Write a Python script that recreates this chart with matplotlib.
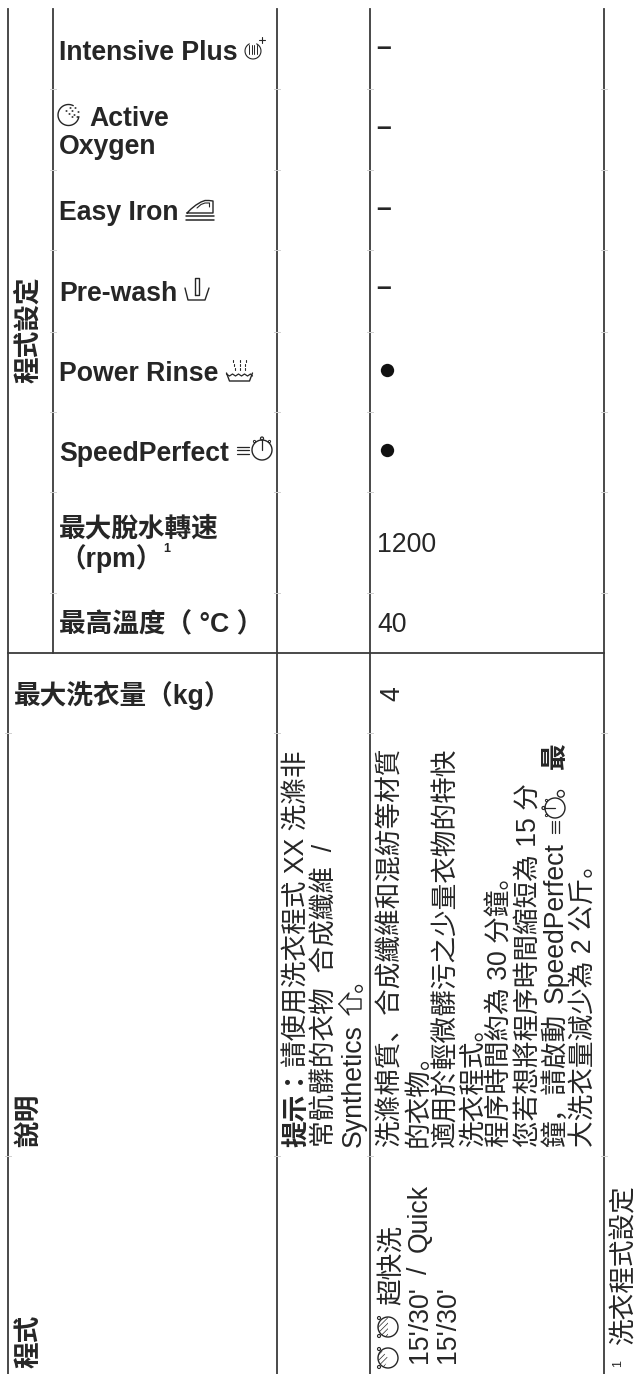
import numpy as np
import matplotlib
matplotlib.use("Agg")
import matplotlib.pyplot as plt
from matplotlib.patches import Circle, Wedge

plt.rcParams['font.family'] = ['Liberation Sans', 'Noto Sans CJK SC', 'DejaVu Sans']
plt.rcParams['hatch.linewidth'] = 0.5

# table content
row_labels = ["Intensive Plus", "Active\nOxygen", "Easy Iron", "Pre-wash", "Power Rinse",
              "SpeedPerfect", "最大脫水轉速\n（rpm）", "最高溫度（ °C ）"]
row_values = ["–", "–", "–", "–", "●", "●", "1200", "40"]
group_label = "程式設定"
load_label = "最大洗衣量（kg）"
load_value = "4"
head_desc = "說明"
head_prog = "程式"
note_bold = "提示："
note_lines = ["請使用洗衣程式 XX 洗滌非", "常骯髒的衣物  合成纖維  /", "Synthetics"]
prog_name = "超快洗"
prog_time = "15'/30'"
prog_sep = "/"
prog_en = "Quick"
desc_lines = ["洗滌棉質、合成纖維和混紡等材質", "的衣物。", "適用於輕微髒污之少量衣物的特快",
              "洗衣程式。", "程序時間約為 30 分鐘。", "您若想將程序時間縮短為 15 分",
              "鐘，請啟動", "大洗衣量減少為 2 公斤。"]
foot_mark = "1"
foot_text = "洗衣程式設定"

# layout (pixels of the page)
FS = 19.2
INK = "#262626"
LINE = "#3a3a3a"
v_lines = [8, 277, 370, 604]
row_y = [59.5, 126, 220, 301, 381, 461, 537, 632]
value_y = [55, 135, 216, 295, 370, 450, 552, 632]
row_gaps = [89, 170, 250, 332, 412, 492, 593]
low_gaps = [733, 1156]
note_x = [305, 333, 361]
desc_x = [398, 425.5, 453, 480.5, 508, 535.5, 563, 590.5]
prog_x = [399, 427, 455]

fig = plt.figure(figsize=(6.37, 13.74), dpi=100)
ax = fig.add_axes([0, 0, 1, 1])
ax.set_xlim(0, 637)
ax.set_ylim(1374, 0)
ax.axis("off")


def label(x, y, s, bold=False, rot=False, size=FS, family=None):
    ax.text(x, y, s, fontsize=size, color=INK, fontweight="bold" if bold else "normal",
            rotation=90 if rot else 0, rotation_mode="anchor", ha="left", va="baseline",
            linespacing=1.0, family=family)


def place(cx, cy, u, v, s, rot):
    # icon units to page pixels, rot turns the icon with the rotated text
    u = np.asarray(u, float) * s
    v = np.asarray(v, float) * s
    if rot:
        return cx - v, cy - u
    return cx + u, cy - v


def stroke(cx, cy, u, v, s=1, rot=False, lw=0.9):
    x, y = place(cx, cy, u, v, s, rot)
    ax.plot(x, y, color=INK, lw=lw, solid_capstyle="round")


def ring(cx, cy, u, v, r, s=1, rot=False, lw=0.9, fill="none"):
    x, y = place(cx, cy, u, v, s, rot)
    ax.add_patch(Circle((x, y), r * s, fc=fill, ec=INK, lw=lw))


def stopwatch(cx, cy, s=1, rot=False):
    for v in (3.5, 0, -3.5):
        stroke(cx, cy, [-21, -9], [v, v], s, rot)
    ring(cx, cy, 4, 0, 10, s, rot, lw=1.0)
    stroke(cx, cy, [4, 4], [0, 10], s, rot)
    ring(cx, cy, 4, 11.5, 1.5, s, rot, lw=0.9)
    ring(cx, cy, -3.5, 8.5, 1.1, s, rot, lw=0.7)
    ring(cx, cy, 11.5, 8.5, 1.1, s, rot, lw=0.7)


def half_watch(cx, cy, start, end):
    ring(cx, cy, 0, 0, 10, lw=1.0)
    ax.add_patch(Wedge((cx, cy), 10, start, end, fc="none", ec=INK, hatch="//////", lw=0))
    for u in (-9, 9):
        ring(cx, cy, u, 9, 1.5, rot=True, lw=0.8)


def shirt(cx, cy):
    u = [0, 11, 5, 5, -5, -5, -11, 0]
    v = [11, 1, 3, -11, -11, 3, 1, 11]
    stroke(cx, cy, u, v, rot=True, lw=1.0)


def icon_plus(cx, cy):
    t = np.linspace(0.15 * np.pi, 1.85 * np.pi, 30) + np.pi / 2
    stroke(cx, cy, 8 * np.cos(t), 8 * np.sin(t), lw=0.8)
    for u in (-4, -1.3, 1.3, 4):
        stroke(cx, cy, [u, u], [-3, 6], lw=0.7)
    stroke(cx + 9, cy - 11, [-3, 3], [0, 0], lw=0.8)
    stroke(cx + 9, cy - 11, [0, 0], [-3, 3], lw=0.8)


def icon_oxygen(cx, cy):
    t = np.linspace(0.35 * np.pi, 1.95 * np.pi, 40)
    stroke(cx, cy, 10.5 * np.cos(t), 10.5 * np.sin(t), lw=1.0)
    for u, v in [(-2, 4), (1, 1), (4, 4), (6, 0), (2, 7), (7, 7), (10, 3), (4, -2), (9, -2)]:
        ring(cx, cy, u, v, 0.7, fill=INK, lw=0.3)


def icon_iron(cx, cy):
    stroke(cx, cy, [-13, -9, -4, 1, 5, 9, 13, 13, -13],
           [-3, 1, 5, 8, 9.5, 9.5, 9, -3, -3], lw=1.0)
    stroke(cx, cy, [-3, 1, 5, 9.5, 9.5], [2, 5.5, 7, 7, 3], lw=0.8)
    stroke(cx, cy, [-14, 14], [-6, -6], lw=1.1)
    stroke(cx, cy, [-14, 14], [-9.5, -9.5], lw=1.1)


def icon_prewash(cx, cy):
    stroke(cx, cy, [-12, -9, 8, 12], [1, -11, -11, 1], lw=1.0)
    stroke(cx, cy, [-2, -2, 2, 2, -2], [-6, 11, 11, -6, -6], lw=1.0)


def icon_rinse(cx, cy):
    stroke(cx, cy, [-13, -10, 10, 13], [-3, -11, -11, -3], lw=1.0)
    u = np.array([-13, -10, -7, -4, -1, 2, 5, 8, 11, 13])
    stroke(cx, cy, u, [-4, -6, -4, -6, -4, -6, -4, -6, -4, -6], lw=0.9)
    for a in (-5, 0, 5):
        for b in (0, 4, 8):
            stroke(cx, cy, [a * (1 + b * 0.03)] * 2, [b, b + 2.4], lw=0.8)


# grid lines
for x in v_lines:
    ax.plot([x, x], [9, 1374], color=LINE, lw=1.3)
ax.plot([53, 53], [9, 653], color=LINE, lw=1.3)
ax.plot([8, 604], [653, 653], color=LINE, lw=1.3)
for y in row_gaps:
    for x in [53, 277, 370, 604]:
        ax.plot([x - 3, x + 3], [y, y], color="#d0d0d0", lw=0.7)
for y in low_gaps:
    for x in v_lines:
        ax.plot([x - 3, x + 3], [y, y], color="#d0d0d0", lw=0.7)

# left block, settings rows
label(36, 383, group_label, bold=True, rot=True)
for text, y in zip(row_labels, row_y):
    if text == "Active\nOxygen":
        label(89, 126, "Active", bold=True)
        label(59, 154, "Oxygen", bold=True)
    elif "\n" in text:
        first, second = text.split("\n")
        label(59, y, first, bold=True)
        label(59, y + 30, second, bold=True)
    else:
        label(59, y, text, bold=True)
label(163, 552, "1", bold=True, size=9)

icon_plus(253, 51)
icon_oxygen(68.5, 115)
icon_iron(200, 210)
icon_prewash(197, 289)
icon_rinse(239.5, 370)
stopwatch(258, 450)

# values
for value, y in zip(row_values, value_y):
    if value == "●":
        ax.plot(386.5, y, "o", ms=9.6, color="#111111", mew=0)
    elif value == "–":
        label(376, y, value, bold=True)
    else:
        label(377, y, value)

label(14, 704, load_label, bold=True)
label(399, 701, load_value, rot=True)

# lower block, rotated text
label(36, 1147, head_desc, bold=True, rot=True)
label(36, 1368, head_prog, bold=True, rot=True)

label(note_x[0], 1147, note_bold, bold=True, rot=True, family=['Noto Sans CJK TC'])
label(note_x[0], 1067, note_lines[0], rot=True)
label(note_x[1], 1147, note_lines[1], rot=True)
label(note_x[2], 1147, note_lines[2], rot=True)
shirt(350, 1004)
label(note_x[2], 992, "。", rot=True)

for text, x in zip(desc_lines, desc_x):
    label(x, 1147, text, rot=True)
label(desc_x[6], 1003, "SpeedPerfect", rot=True)
stopwatch(555, 812, rot=True)
label(desc_x[6], 797, "。", rot=True)
label(desc_x[6], 769, "最", bold=True, rot=True)

half_watch(388, 1327, 90, 270)
half_watch(388, 1358, 110, 230)
label(prog_x[0], 1305, prog_name, rot=True)
label(prog_x[1], 1363, prog_time, rot=True)
label(prog_x[1], 1274, prog_sep, rot=True)
label(prog_x[1], 1252, prog_en, rot=True)
label(prog_x[2], 1363, prog_time, rot=True)

label(621, 1367, foot_mark, rot=True, size=9)
label(631.5, 1345, foot_text, rot=True)

fig.savefig("out.png", dpi=100, facecolor="white")
